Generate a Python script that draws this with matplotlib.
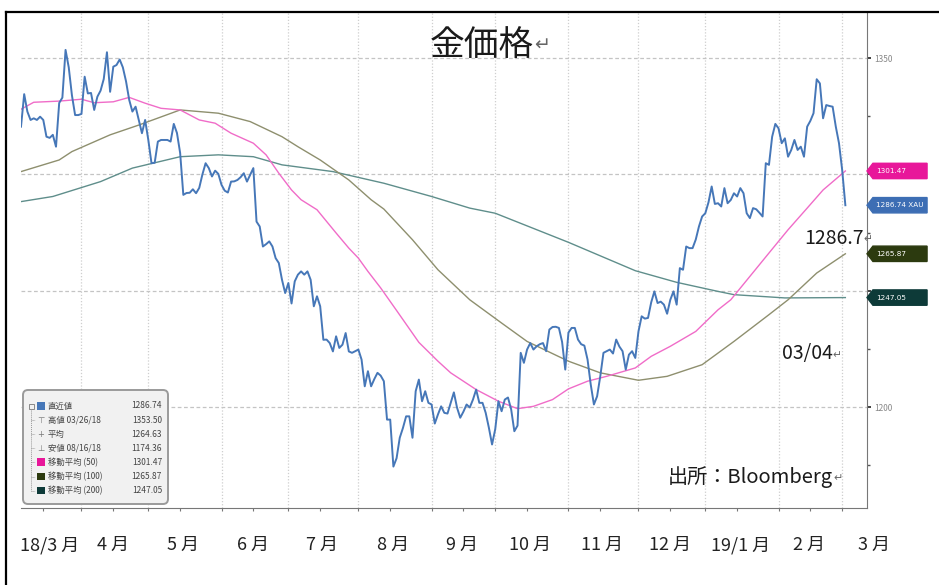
import numpy as np
import pandas as pd
import matplotlib
matplotlib.use("Agg")
import matplotlib.pyplot as plt
import matplotlib.transforms as mtransforms
from matplotlib.patches import FancyBboxPatch, Polygon, Rectangle
from matplotlib.lines import Line2D

plt.rcParams['font.family'] = ['Noto Sans CJK JP', 'DejaVu Sans']

# 営業日ベースの横軸 (2018-03-06 から)
days = pd.bdate_range('2018-03-06', '2019-03-29')

# 金価格 (XAU) 終値、チャートから読み取り
price = [
    1320.5, 1334.5, 1327.0, 1323.4, 1324.1, 1323.4, 1324.8, 1323.4, 1316.2, 1315.7,
    1317.0, 1311.9, 1330.7, 1333.0, 1353.5, 1346.0, 1334.0, 1325.5, 1325.5, 1326.0,
    1342.0, 1334.8, 1335.0, 1327.7, 1333.4, 1336.0, 1341.0, 1352.5, 1335.5, 1346.3,
    1347.0, 1349.4, 1346.0, 1340.0, 1332.0, 1327.0, 1329.1, 1323.4, 1317.7, 1323.4,
    1314.8, 1304.8, 1305.0, 1314.1, 1314.8, 1314.8, 1314.8, 1314.1, 1321.7, 1317.8,
    1309.2, 1291.2, 1292.0, 1292.1, 1293.6, 1291.9, 1294.2, 1300.0, 1304.8, 1302.7,
    1299.1, 1301.6, 1300.2, 1295.5, 1293.0, 1292.2, 1296.9, 1297.0, 1297.6, 1298.8,
    1300.5, 1296.9, 1299.8, 1302.7, 1279.7, 1277.6, 1269.0, 1270.0, 1271.2, 1269.0,
    1264.0, 1261.9, 1254.7, 1249.0, 1253.3, 1244.5, 1254.0, 1256.9, 1258.3, 1256.9,
    1258.3, 1254.7, 1243.3, 1247.6, 1243.3, 1228.9, 1229.0, 1227.5, 1223.9, 1230.4,
    1225.4, 1226.8, 1231.8, 1223.9, 1223.3, 1224.0, 1224.7, 1220.4, 1208.9, 1215.4,
    1208.9, 1212.0, 1214.7, 1213.5, 1211.1, 1194.6, 1194.6, 1174.4, 1178.0, 1186.8,
    1191.0, 1196.0, 1196.0, 1186.8, 1206.8, 1211.8, 1202.5, 1206.8, 1201.8, 1201.1,
    1192.9, 1196.8, 1200.3, 1197.5, 1197.2, 1201.8, 1206.3, 1199.7, 1195.4, 1198.0,
    1201.1, 1199.8, 1203.2, 1207.5, 1201.8, 1201.8, 1197.5, 1191.1, 1183.9, 1190.5,
    1202.5, 1198.2, 1203.2, 1204.1, 1199.0, 1189.6, 1192.0, 1223.3, 1219.0, 1224.7,
    1227.5, 1224.7, 1226.1, 1227.0, 1227.5, 1224.0, 1233.3, 1234.4, 1234.5, 1234.0,
    1228.0, 1216.1, 1232.0, 1234.0, 1234.0, 1229.0, 1227.0, 1226.4, 1220.4, 1209.7,
    1201.1, 1204.6, 1213.2, 1223.3, 1224.0, 1224.7, 1223.0, 1229.0, 1226.0, 1224.0,
    1216.1, 1222.5, 1224.0, 1221.1, 1232.5, 1239.0, 1238.0, 1238.3, 1245.0, 1249.7,
    1244.7, 1245.3, 1244.0, 1240.1, 1246.1, 1249.7, 1244.0, 1259.7, 1259.0, 1269.0,
    1268.3, 1268.3, 1272.0, 1277.6, 1281.9, 1283.3, 1288.0, 1294.8, 1287.3, 1287.6,
    1286.2, 1294.1, 1287.6, 1289.0, 1291.9, 1290.5, 1294.1, 1291.9, 1283.3, 1281.2,
    1285.5, 1285.0, 1283.5, 1281.9, 1304.8, 1304.1, 1316.2, 1321.7, 1319.8, 1313.4,
    1315.5, 1307.6, 1310.5, 1314.8, 1310.5, 1311.9, 1307.6, 1320.5, 1323.0, 1326.3,
    1340.9, 1339.1, 1324.1, 1329.8, 1329.4, 1329.1, 1320.5, 1313.4, 1301.9, 1286.74,
]

# 移動平均 (営業日番号, 値)
ma50_day = [0, 4, 12, 19, 23, 29, 34, 39, 44, 50, 56, 61, 66, 73, 77, 81, 85, 88, 93, 99,
            103, 106, 109, 113, 118, 125, 131, 135, 143, 150, 156, 161, 167, 172, 178, 184,
            193, 198, 204, 212, 219, 223, 235, 241, 247, 252, 259]
ma50 = [1328.0, 1331.0, 1331.5, 1332.3, 1330.8, 1331.2, 1333.1, 1330.6, 1328.4, 1327.7,
        1323.4, 1322.0, 1317.7, 1313.4, 1308.4, 1300.5, 1293.3, 1289.1, 1284.8, 1274.8,
        1268.3, 1264.0, 1258.3, 1251.2, 1241.5, 1227.8, 1219.7, 1214.7, 1207.5, 1202.5,
        1199.3, 1200.3, 1203.2, 1207.8, 1211.1, 1213.2, 1216.8, 1221.8, 1226.1, 1232.5,
        1241.8, 1246.1, 1266.2, 1276.2, 1285.5, 1293.3, 1301.47]

ma100_day = [0, 12, 16, 28, 37, 50, 62, 72, 82, 87, 94, 103, 110, 114, 123, 131, 141, 151,
             159, 172, 182, 194, 203, 214, 224, 235, 241, 250, 259]
ma100 = [1301.2, 1306.2, 1309.8, 1317.0, 1321.2, 1327.7, 1326.3, 1322.7, 1316.2, 1311.9,
         1306.2, 1297.6, 1289.1, 1285.1, 1271.9, 1259.0, 1246.1, 1236.1, 1228.2, 1219.7,
         1214.7, 1211.5, 1213.2, 1218.2, 1228.2, 1239.7, 1246.1, 1257.6, 1265.87]

ma200_day = [0, 10, 25, 35, 50, 62, 73, 82, 98, 114, 129, 141, 149, 172, 193, 206, 219, 224,
             240, 259]
ma200 = [1288.3, 1290.5, 1296.9, 1302.7, 1307.6, 1308.4, 1307.6, 1304.1, 1301.2, 1296.2,
         1290.5, 1285.5, 1283.3, 1270.8, 1258.6, 1253.6, 1249.7, 1248.3, 1246.9, 1247.05]

month_names = ['18/3 月', '4 月', '5 月', '6 月', '7 月', '8 月', '9 月', '10 月',
               '11 月', '12 月', '19/1 月', '2 月', '3 月']

legend_names = ['直近値', '高値 03/26/18', '平均', '安値 08/16/18',
                '移動平均 (50)', '移動平均 (100)', '移動平均 (200)']
legend_values = ['1286.74', '1353.50', '1264.63', '1174.36', '1301.47', '1265.87', '1247.05']

tag_values = [1301.47, 1286.74, 1265.87, 1247.05]
tag_texts = ['1301.47', '1286.74 XAU', '1265.87', '1247.05']

y_ticks = [1200, 1250, 1300, 1350]
y_ticklabels = ['1200', '', '', '1350']   # 1250/1300 はタグに隠れている

# 色
c_price = '#4677b8'
c_ma50 = '#f06cc8'
c_ma100 = '#8e8f6e'
c_ma200 = '#5f8e8b'
tag_colors = ['#e8179a', '#3d6eb4', '#2c3a0f', '#0d3a38']
legend_sw = [c_price, None, None, None, '#e8179a', '#2c3a0f', '#0d3a38']

W, H = 939, 585
fig = plt.figure(figsize=(W / 100, H / 100), dpi=100)
# 画像ピクセル座標 (左上原点) -> figure
pxT = mtransforms.Affine2D().scale(1, -1).translate(0, H).scale(1 / W, 1 / H) + fig.transFigure

ax = fig.add_axes([21 / W, (H - 508) / H, 846 / W, 496 / H])
ax.set_xlim(0, 265.8)
ax.set_ylim(1156.6, 1369.8)

# 月の区切り
month_id = np.asarray(days.year * 12 + days.month)
starts = [i for i in range(1, len(days)) if month_id[i] != month_id[i - 1]]
mids = [np.mean(np.where(month_id == m)[0]) for m in pd.unique(month_id)]
mid_ticks = []
for m in pd.unique(month_id):
    idx = np.where((month_id == m) & (np.asarray(days.day) >= 15))[0]
    if len(idx):
        mid_ticks.append(idx[0])
starts = [s for s in starts if s < 265]
mid_ticks = [s for s in mid_ticks if s < 265]

for s in starts:
    ax.axvline(s, color='#cfcfcf', lw=0.9, ls=(0, (1, 1.5)), zorder=0)
for v in y_ticks:
    ax.axhline(v, color='#c4c4c4', lw=0.9, ls=(0, (3, 2)), zorder=0)

t = np.arange(len(price))
ax.plot(ma200_day, ma200, color=c_ma200, lw=1.0, zorder=2)
ax.plot(ma100_day, ma100, color=c_ma100, lw=1.0, zorder=2)
ax.plot(ma50_day, ma50, color=c_ma50, lw=1.0, zorder=3)
ax.plot(t, price, color=c_price, lw=1.4, zorder=4)

# 軸
for sp in ['left', 'top']:
    ax.spines[sp].set_visible(False)
ax.spines['right'].set_color('#777777')
ax.spines['bottom'].set_color('#777777')
ax.yaxis.tick_right()
ax.set_yticks(y_ticks)
ax.set_yticklabels(y_ticklabels)
ax.set_yticks([1175, 1225, 1275, 1325], minor=True)
ax.tick_params(axis='y', which='major', labelsize=6, labelcolor='#888888',
               length=3, width=1.3, color='#333333', pad=2)
ax.tick_params(axis='y', which='minor', length=2, width=1, color='#555555')
ax.set_xticks(starts)
ax.set_xticks(mid_ticks, minor=True)
ax.tick_params(axis='x', which='both', length=2.5, width=0.8, color='#777777',
               labelbottom=False)

# 右端のタグ
tagT = mtransforms.blended_transform_factory(ax.transAxes, ax.transData)
hh = 3.3
for v, txt, c in zip(tag_values, tag_texts, tag_colors):
    poly = Polygon([(1.0, v), (1.007, v + hh), (1.071, v + hh), (1.071, v - hh), (1.007, v - hh)],
                   closed=True, transform=tagT, facecolor=c, edgecolor=c,
                   clip_on=False, zorder=6)
    ax.add_patch(poly)
    ax.text(1.011, v, txt, transform=tagT, fontsize=5.2, color='white',
            va='center', ha='left', clip_on=False, zorder=7, family='DejaVu Sans')

# 凡例ボックス
box = FancyBboxPatch((23, 390), 145, 114, boxstyle='round,pad=0,rounding_size=5',
                     transform=pxT, facecolor='#f1f1f1', edgecolor='#9a9a9a', lw=1.4,
                     zorder=8)
fig.add_artist(box)
row_y = [406 + 14.1 * k for k in range(len(legend_names))]
fig.add_artist(Rectangle((28.5, 403.5), 5, 5, transform=pxT, facecolor='none',
                         edgecolor='#888888', lw=0.7, zorder=9))
fig.add_artist(Line2D([31, 31], [409, row_y[-1]], transform=pxT, color='#999999',
                      lw=0.7, ls=(0, (1, 1)), zorder=9))
symbols = [None, '⊤', '+', '⊥', None, None, None]
for k, (y, name, val) in enumerate(zip(row_y, legend_names, legend_values)):
    if k > 0:
        fig.add_artist(Line2D([31, 35], [y, y], transform=pxT, color='#999999',
                              lw=0.7, ls=(0, (1, 1)), zorder=9))
    if legend_sw[k] is not None:
        fig.add_artist(Rectangle((37, y - 4), 7.5, 7.5, transform=pxT,
                                 facecolor=legend_sw[k], edgecolor='none', zorder=9))
    else:
        fig.text(40.5, y, symbols[k], transform=pxT, fontsize=6, color='#777777',
                 ha='center', va='center', zorder=9, family=['DejaVu Sans'])
    fig.text(48, y, name, transform=pxT, fontsize=6, color='#444444',
             ha='left', va='center', zorder=9)
    fig.text(162, y, val, transform=pxT, fontsize=6, color='#444444',
             ha='right', va='center', zorder=9)


def word_text(x, y, s, size):
    # 本文 + Word の段落記号 (小さめ)
    txt = fig.text(x, y, s, transform=pxT, fontsize=size, color='#1a1a1a',
                   ha='left', va='center')
    ax.annotate('↵', xy=(1.0, 0.22), xycoords=txt, fontsize=size * 0.55,
                color='#666666', ha='left', va='bottom', annotation_clip=False)
    return txt


# タイトル・注記
word_text(430, 46, '金価格', 25)
word_text(804, 238, '1286.7', 14)
word_text(782, 354, '03/04', 14)
word_text(668, 477, '出所：Bloomberg', 14.5)

# 月ラベル
labT = mtransforms.blended_transform_factory(ax.transData, pxT)
for x, name in zip(mids, month_names):
    ax.text(x, 545, name, transform=labT, fontsize=13, color='#222222',
            ha='center', va='center', clip_on=False)

# 外枠
fig.add_artist(Line2D([6, 6], [12, H], transform=pxT, color='black', lw=1.6))
fig.add_artist(Line2D([6, W], [12, 12], transform=pxT, color='black', lw=1.6))

fig.savefig('out.png', dpi=100, facecolor='white')
